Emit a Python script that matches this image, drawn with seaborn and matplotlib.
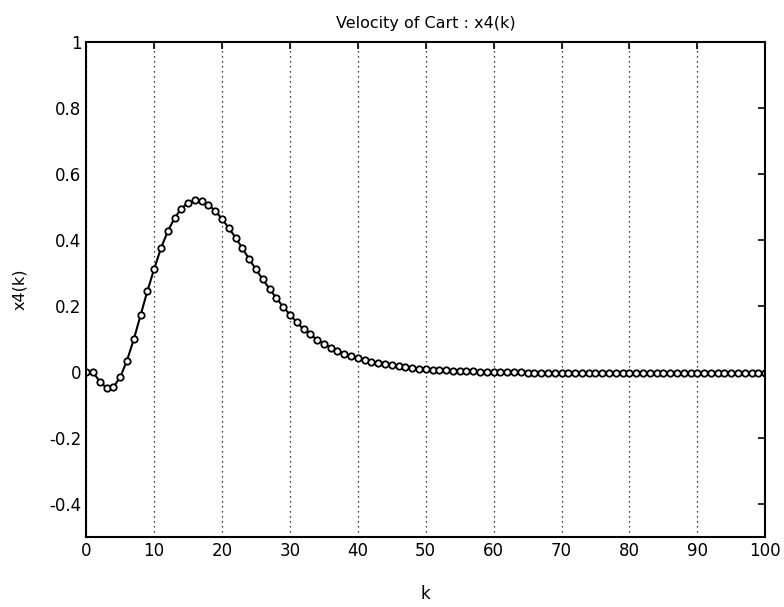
import numpy as np
import pandas as pd
import seaborn as sns
import matplotlib
matplotlib.use("Agg")
import matplotlib.pyplot as plt

k_values = list(range(0, 101))
x4_values = [
    0.000, 0.000, -0.029, -0.048, -0.045, -0.016, 0.035, 0.099, 0.172, 0.245,
    0.312, 0.375, 0.426, 0.466, 0.495, 0.513, 0.520, 0.517, 0.507, 0.488,
    0.464, 0.436, 0.407, 0.375, 0.342, 0.311, 0.281, 0.252, 0.224, 0.198,
    0.174, 0.151, 0.130, 0.114, 0.098, 0.086, 0.074, 0.064, 0.055, 0.048,
    0.042, 0.036, 0.031, 0.027, 0.023, 0.020, 0.017, 0.014, 0.012, 0.010,
    0.009, 0.007, 0.006, 0.005, 0.004, 0.003, 0.002, 0.002, 0.001, 0.001,
    0.000, 0.000, -0.001, -0.001, -0.001, -0.002, -0.002, -0.002, -0.002, -0.003,
    -0.003, -0.003, -0.003, -0.003, -0.003, -0.004, -0.004, -0.004, -0.004, -0.004,
    -0.004, -0.004, -0.004, -0.004, -0.004, -0.004, -0.004, -0.004, -0.004, -0.004,
    -0.004, -0.004, -0.004, -0.004, -0.004, -0.004, -0.004, -0.004, -0.004, -0.004,
    -0.004,
]
x_ticks = [0, 10, 20, 30, 40, 50, 60, 70, 80, 90, 100]
y_ticks = [-0.4, -0.2, 0, 0.2, 0.4, 0.6, 0.8, 1]
y_tick_labels = ["-0.4", "-0.2", "0", "0.2", "0.4", "0.6", "0.8", "1"]

df = pd.DataFrame({"k": k_values, "x4": x4_values})

sns.set_style("white")
plt.rcParams["font.family"] = ["DejaVu Sans"]
plt.rcParams["text.color"] = "black"
plt.rcParams["axes.labelcolor"] = "black"

fig = plt.figure(figsize=(7.84, 6.07), dpi=100)
ax = fig.add_axes([0.110, 0.115, 0.866, 0.816])

sns.lineplot(data=df, x="k", y="x4", ax=ax, color="black", linewidth=1.5,
             marker="o", markersize=4.6, markerfacecolor="white",
             markeredgecolor="black", markeredgewidth=1.3)

ax.set_xlim(0, 100)
ax.set_ylim(-0.5, 1)
ax.set_xticks(x_ticks)
ax.set_yticks(y_ticks)
ax.set_yticklabels(y_tick_labels)
ax.tick_params(direction="in", length=5, width=1.2, top=True, right=True,
               labelsize=12, colors="black")
ax.xaxis.grid(True, linestyle=(0, (1, 3)), color="black", linewidth=0.9)
ax.yaxis.grid(False)
for s in ax.spines.values():
    s.set_visible(True)
    s.set_color("black")
    s.set_linewidth(1.5)

ax.set_title("Velocity of Cart : x4(k)", fontsize=11.5, pad=10, color="black")
ax.set_xlabel("k", fontsize=12, labelpad=18)
ax.set_ylabel("x4(k)", fontsize=11.5, labelpad=16)

fig.savefig("out.png", dpi=100, facecolor="white")
